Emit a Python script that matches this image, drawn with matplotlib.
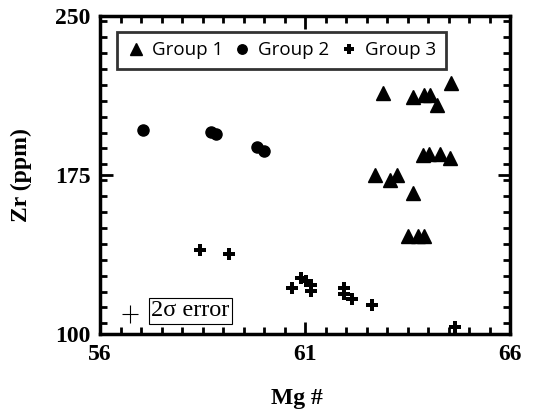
import matplotlib
matplotlib.use("Agg")
import matplotlib.pyplot as plt
from matplotlib.ticker import MultipleLocator


# Group 1 (triangles)
G1_MG = [62.91, 63.63, 63.91, 64.04, 64.22, 64.56,
         62.70, 63.07, 63.24, 63.63,
         63.87, 64.03, 64.30, 64.54,
         63.51, 63.75, 63.91]
G1_ZR = [213.5, 211.9, 212.8, 212.8, 208.0, 218.3,
         175.0, 172.7, 175.0, 166.7,
         184.4, 185.1, 185.1, 183.1,
         146.3, 146.0, 146.3]

# Group 2 (circles)
G2_MG = [57.05, 58.71, 58.82, 59.83, 59.99]
G2_ZR = [196.3, 195.3, 194.2, 188.3, 186.2]

# Group 3 (plus)
G3_MG = [58.43, 59.14, 60.69, 60.91, 61.03, 61.15, 61.15,
         61.94, 61.94, 62.14, 62.63, 64.66]
G3_ZR = [139.6, 137.7, 121.7, 126.2, 125.1, 123.1, 120.4,
         121.5, 118.8, 116.5, 113.7, 103.1]

LABELS = ["Group 1", "Group 2", "Group 3"]
X_TICKS = [56, 61, 66]
Y_TICKS = [100, 175, 250]

# 2 sigma error cross
ERR_X, ERR_Y = 56.73, 109.4
ERR_DX, ERR_DY = 0.2, 4.3

SERIF = "Liberation Serif"
SANS = "Open Sans"

fig = plt.figure(figsize=(5.36, 4.13), dpi=100)
ax = fig.add_axes([0.1866, 0.1913, 0.7649, 0.77])

ax.plot(G1_MG, G1_ZR, "^", color="black", markersize=10, label=LABELS[0])
ax.plot(G2_MG, G2_ZR, "o", color="black", markersize=8, label=LABELS[1])
ax.plot(G3_MG, G3_ZR, "P", color="black", markersize=9,
        markeredgewidth=0, label=LABELS[2])

ax.errorbar([ERR_X], [ERR_Y], xerr=ERR_DX, yerr=ERR_DY, fmt="none",
            ecolor="black", elinewidth=0.8, capsize=0)
ax.text(58.2, ERR_Y + 1.5, "2σ error", family=SERIF, fontsize=17.5,
        ha="center", va="center",
        bbox=dict(boxstyle="square,pad=0.1", facecolor="white",
                  edgecolor="black", linewidth=0.8))

ax.set_xlim(56, 66)
ax.set_ylim(100, 250)
ax.set_xticks(X_TICKS)
ax.set_yticks(Y_TICKS)
ax.xaxis.set_minor_locator(MultipleLocator(0.5))
ax.yaxis.set_minor_locator(MultipleLocator(7.5))
ax.tick_params(which="both", direction="in", top=True, right=True,
               width=2, color="black")
ax.tick_params(which="major", length=9, pad=7)
ax.tick_params(which="minor", length=5)
for lab in ax.get_xticklabels() + ax.get_yticklabels():
    lab.set_family(SERIF)
    lab.set_fontweight("bold")
    lab.set_fontsize(17)
for spine in ax.spines.values():
    spine.set_linewidth(2.5)

ax.set_xlabel("Mg #", family=SERIF, fontweight="bold", fontsize=17)
ax.set_ylabel("Zr (ppm)", family=SERIF, fontweight="bold", fontsize=17)
ax.xaxis.set_label_coords(0.48, -0.17)
ax.yaxis.set_label_coords(-0.165, 0.5)

leg = ax.legend(loc="upper left", bbox_to_anchor=(0.041, 0.95),
                borderaxespad=0, ncol=3, frameon=True, fancybox=False,
                handletextpad=0.35, columnspacing=0.55, handlelength=1.0,
                borderpad=0.5, markerscale=0.85,
                prop={"family": SANS, "size": 13.5})
leg.get_frame().set_edgecolor("black")
leg.get_frame().set_linewidth(2)

fig.savefig("out.png", dpi=100)
